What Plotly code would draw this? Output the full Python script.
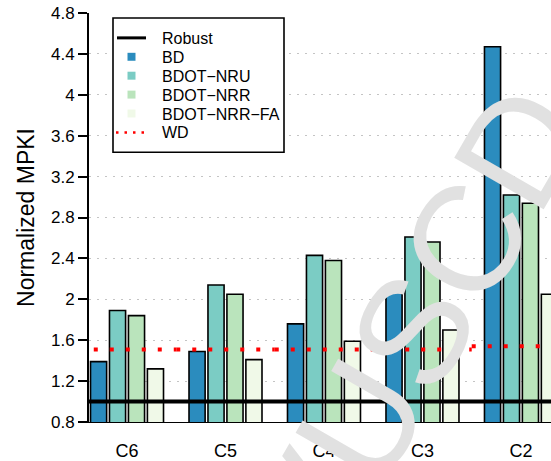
import plotly.graph_objects as go

categories = ["C6", "C5", "C4", "C3", "C2"]
bd = [1.39, 1.49, 1.76, 2.10, 4.47]
bdot_nru = [1.89, 2.14, 2.43, 2.61, 3.02]
bdot_nrr = [1.84, 2.05, 2.38, 2.56, 2.94]
bdot_nrr_fa = [1.32, 1.41, 1.59, 1.70, 2.05]
robust = [1.0, 1.0, 1.0, 1.0, 1.0]
wd = [1.51, 1.51, 1.51, 1.51, 1.54]
ytick_vals = [0.8, 1.2, 1.6, 2.0, 2.4, 2.8, 3.2, 3.6, 4.0, 4.4, 4.8]
ytick_text = ["0.8", "1.2", "1.6", "2", "2.4", "2.8", "3.2", "3.6", "4", "4.4", "4.8"]
legend_labels = ["Robust", "BD", "BDOT\u2212NRU", "BDOT\u2212NRR", "BDOT\u2212NRR\u2212FA", "WD"]

FONT = "Liberation Sans, Arial, Helvetica, sans-serif"
colors = ["#2b8cbe", "#7bccc4", "#bae4bc", "#f0f9e8"]
series = list(zip(legend_labels[1:5], [bd, bdot_nru, bdot_nrr, bdot_nrr_fa], colors))
xs = list(range(len(categories)))

W, H = 551, 461
ML, MR, MT, MB = 89, 0, 13, 37
PW, PH = W - ML - MR, H - MT - MB

def px(x):
    return (x - ML) / PW

def py(y):
    return (H - MB - y) / PH

def steps(vals):
    sx, sy = [], []
    for i, v in enumerate(vals):
        sx += [i - 0.5, i + 0.5, None]
        sy += [v, v, None]
    return sx, sy

fig = go.Figure()
for name, vals, col in series:
    fig.add_trace(go.Bar(x=xs, y=vals, name=name, showlegend=False,
                         marker=dict(color=col, line=dict(color="black", width=1.6))))

rx, ry = [], []
for i, v in enumerate(robust):
    rx += [i - 0.5, i + 0.5]
    ry += [v, v]
fig.add_trace(go.Scatter(x=rx, y=ry, mode="lines", name="Robust", showlegend=False,
                         line=dict(color="black", width=4)))
wx, wy = steps(wd)
fig.add_trace(go.Scatter(x=wx, y=wy, mode="lines", name="WD", showlegend=False,
                         connectgaps=False,
                         line=dict(color="red", width=4, dash="4px,12px")))

# manual legend
shapes = []
annos = []
bx0, bx1, by0, by1 = 113, 284, 18, 153
shapes.append(dict(type="rect", xref="paper", yref="paper",
                   x0=px(bx0), x1=px(bx1), y0=py(by1), y1=py(by0),
                   fillcolor="white", line=dict(color="black", width=1.6)))
row_y = [38, 57, 76, 95, 114, 133]
shapes.append(dict(type="line", xref="paper", yref="paper",
                   x0=px(117), x1=px(146), y0=py(row_y[0]), y1=py(row_y[0]),
                   line=dict(color="black", width=3)))
for k, col in enumerate(colors):
    yc = row_y[k + 1]
    shapes.append(dict(type="rect", xref="paper", yref="paper",
                       x0=px(127.5), x1=px(135.5), y0=py(yc + 4), y1=py(yc - 4),
                       fillcolor=col, line=dict(width=0)))
shapes.append(dict(type="line", xref="paper", yref="paper",
                   x0=px(116), x1=px(146), y0=py(row_y[5]), y1=py(row_y[5]),
                   line=dict(color="red", width=2.5, dash="2.5px,6px")))
for lab, yc in zip(legend_labels, row_y):
    annos.append(dict(text=lab, xref="paper", yref="paper", x=px(160), y=py(yc + 0.5),
                      xanchor="left", yanchor="middle", showarrow=False,
                      font=dict(family=FONT, size=16, color="black")))

annos.append(dict(text="VUSCD", xref="paper", yref="paper", x=0.706, y=0.23,
                  xanchor="center", yanchor="middle", showarrow=False,
                  textangle=-60,
                  font=dict(family=FONT, size=150, color="#e1e1e1")))

fig.update_layout(
    width=W, height=H,
    margin=dict(l=ML, r=MR, t=MT, b=MB),
    paper_bgcolor="white", plot_bgcolor="white",
    font=dict(family=FONT, color="black"),
    barmode="group", bargap=0.23, bargroupgap=0.15,
    showlegend=False,
    shapes=shapes, annotations=annos,
    xaxis=dict(range=[-0.386, 4.305], tickvals=xs, ticktext=categories,
               showgrid=False, zeroline=False, showline=True, linecolor="black",
               linewidth=1, ticks="", tickfont=dict(size=18),
               ticklabelstandoff=12),
    yaxis=dict(range=[0.8, 4.8], tickvals=ytick_vals, ticktext=ytick_text,
               showgrid=True, gridcolor="#c4c4c4", gridwidth=1, griddash="2px,6px",
               zeroline=False, showline=True, linecolor="black", linewidth=2,
               ticks="outside", ticklen=9, tickwidth=1.5, tickcolor="black",
               tickfont=dict(size=17),
               title=dict(text="Normalized MPKI", font=dict(size=23), standoff=10)),
)

fig.write_html("out.html")
